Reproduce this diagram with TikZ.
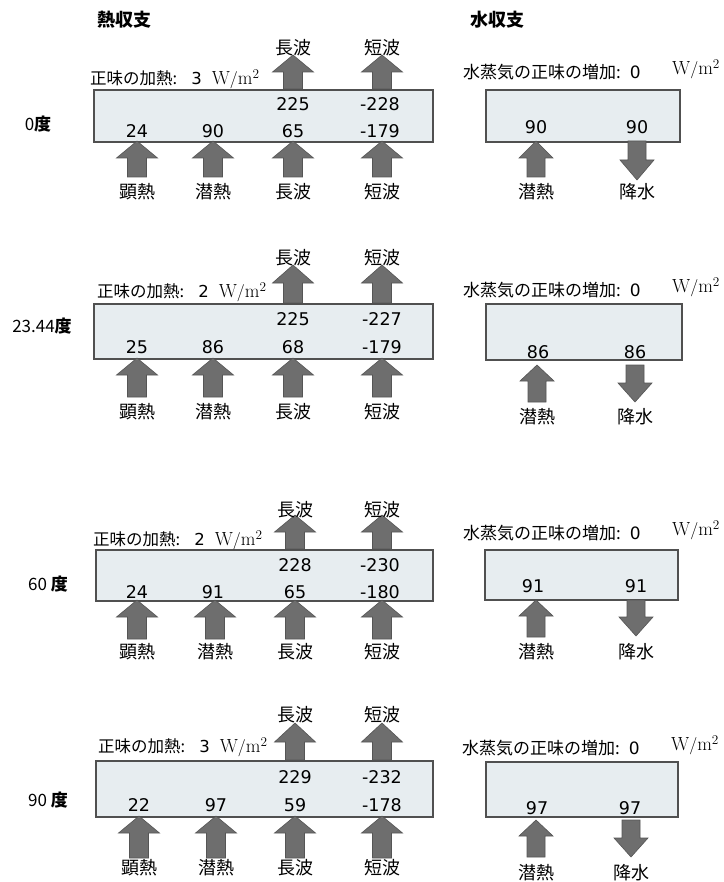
\documentclass[tikz,border=0pt]{standalone}
\usepackage{fontspec}
\newfontfamily\jp{Noto Sans CJK JP}
\newfontfamily\numf{DejaVu Sans}
\definecolor{boxfill}{HTML}{E7EDF0}
\definecolor{boxline}{HTML}{505050}
\definecolor{arrfill}{HTML}{6E6E6E}
\definecolor{arrline}{HTML}{555555}
\tikzset{
  hbox/.style={draw=boxline, fill=boxfill, line width=1.6pt, anchor=north west, inner sep=0pt},
  arr/.style={fill=arrfill, draw=arrline, line width=0.6pt, line join=miter},
  lab/.style={font=\jp\fontsize{18}{20}\selectfont, inner sep=0pt},
  val/.style={font=\numf\fontsize{17.5}{20}\selectfont, inner sep=0pt},
  net/.style={font=\jp\fontsize{16.5}{18}\selectfont, anchor=west, inner sep=0pt},
  wnet/.style={font=\jp\fontsize{17}{19}\selectfont, anchor=west, inner sep=0pt},
  unit/.style={font=\fontsize{19}{21}\selectfont, anchor=west, inner sep=0pt},
  ttl/.style={font=\jp\bfseries\fontsize{18}{20}\selectfont, inner sep=0pt},
  deg/.style={font=\jp\fontsize{17}{19}\selectfont, inner sep=0pt}
}
% heat arrow up: x, tip, base, bottom
\newcommand\heatup[4]{\draw[arr] (#1-9.5,#4) -- (#1-9.5,#3) -- (#1-20.5,#3) -- (#1,#2) -- (#1+20.5,#3) -- (#1+9.5,#3) -- (#1+9.5,#4) -- cycle;}
% water arrow up: x, tip, base, bottom
\newcommand\waterup[4]{\draw[arr] (#1-9,#4) -- (#1-9,#3) -- (#1-17,#3) -- (#1,#2) -- (#1+17,#3) -- (#1+9,#3) -- (#1+9,#4) -- cycle;}
% water arrow down: x, top, headtop, tip
\newcommand\waterdown[4]{\draw[arr] (#1-9,#2) -- (#1-9,#3) -- (#1-17,#3) -- (#1,#4) -- (#1+17,#3) -- (#1+9,#3) -- (#1+9,#2) -- cycle;}
\newcommand\nettext[1]{正味の加熱:\hspace{14pt}{\numf #1}\hspace{10pt}{\fontsize{19}{20}\selectfont$\mathrm{W/m^2}$}}
\newcommand\wtext{水蒸気の正味の増加:\hspace{9pt}{\numf 0}}
\begin{document}
\begin{tikzpicture}[x=1pt,y=-1pt]
\useasboundingbox (0,0) rectangle (723,882);
\fill[white] (0,0) rectangle (723,882);

\node[ttl] (t1) at (124,20) {熱収支};
\node[ttl] (t2) at (497,20) {水収支};

%================ Row 1 : 0 deg
\node[deg] (d1) at (38,124) {0{\bfseries 度}};
\heatup{293}{55}{72}{89}
\heatup{382}{55}{72}{89}
\node[hbox, minimum width=339pt, minimum height=52pt] (h1) at (93,89) {};
\heatup{137}{141}{158}{177}
\heatup{213}{141}{158}{177}
\heatup{293}{141}{158}{177}
\heatup{382}{141}{158}{177}
\node[lab] (h1a) at (293,48) {長波};
\node[lab] (h1b) at (382,48) {短波};
\node[net] (h1n) at (90,79) {\nettext{3}};
\node[val] (h1v1) at (293,104) {225};
\node[val] (h1v2) at (380,104) {-228};
\node[val] (h1v3) at (137,131) {24};
\node[val] (h1v4) at (213,131) {90};
\node[val] (h1v5) at (293,131) {65};
\node[val] (h1v6) at (380,131) {-179};
\node[lab] (h1c) at (137,192) {顕熱};
\node[lab] (h1d) at (213,192) {潜熱};
\node[lab] (h1e) at (293,192) {長波};
\node[lab] (h1f) at (382,192) {短波};

\node[wnet] (w1n) at (463,72) {\wtext};
\node[unit] (w1u) at (672,69) {$\mathrm{W/m^2}$};
\node[hbox, minimum width=194pt, minimum height=52pt] (w1) at (485,89) {};
\waterup{536}{141}{158}{177}
\waterdown{637}{141}{160}{180}
\node[val] (w1v1) at (536,127) {90};
\node[val] (w1v2) at (637,127) {90};
\node[lab] (w1a) at (536,192) {潜熱};
\node[lab] (w1b) at (637,192) {降水};

%================ Row 2 : 23.44 deg
\node[deg] (d2) at (42,326) {23.44{\bfseries 度}};
\heatup{293}{265}{283}{303}
\heatup{382}{265}{283}{303}
\node[hbox, minimum width=339pt, minimum height=55pt] (h2) at (93,303) {};
\heatup{137}{358}{375}{397}
\heatup{213}{358}{375}{397}
\heatup{293}{358}{375}{397}
\heatup{382}{358}{375}{397}
\node[lab] (h2a) at (293,258) {長波};
\node[lab] (h2b) at (382,258) {短波};
\node[net] (h2n) at (97,292) {\nettext{2}};
\node[val] (h2v1) at (293,319) {225};
\node[val] (h2v2) at (382,319) {-227};
\node[val] (h2v3) at (137,347) {25};
\node[val] (h2v4) at (213,347) {86};
\node[val] (h2v5) at (293,347) {68};
\node[val] (h2v6) at (382,347) {-179};
\node[lab] (h2c) at (137,412) {顕熱};
\node[lab] (h2d) at (213,412) {潜熱};
\node[lab] (h2e) at (293,412) {長波};
\node[lab] (h2f) at (382,412) {短波};

\node[wnet] (w2n) at (463,290) {\wtext};
\node[unit] (w2u) at (672,287) {$\mathrm{W/m^2}$};
\node[hbox, minimum width=196pt, minimum height=56pt] (w2) at (485,303) {};
\waterup{537}{365}{381}{402}
\waterdown{635}{365}{383}{402}
\node[val] (w2v1) at (538,352) {86};
\node[val] (w2v2) at (635,352) {86};
\node[lab] (w2a) at (537,417) {潜熱};
\node[lab] (w2b) at (635,417) {降水};

%================ Row 3 : 60 deg
\node[deg] (d3) at (48,584) {60 {\bfseries 度}};
\heatup{295}{515}{532}{549}
\heatup{382}{515}{532}{549}
\node[hbox, minimum width=337pt, minimum height=51pt] (h3) at (95,549) {};
\heatup{137}{600}{617}{639}
\heatup{215}{600}{617}{639}
\heatup{295}{600}{617}{639}
\heatup{382}{600}{617}{639}
\node[lab] (h3a) at (295,510) {長波};
\node[lab] (h3b) at (382,510) {短波};
\node[net] (h3n) at (93,540) {\nettext{2}};
\node[val] (h3v1) at (295,565) {228};
\node[val] (h3v2) at (380,565) {-230};
\node[val] (h3v3) at (137,592) {24};
\node[val] (h3v4) at (213,592) {91};
\node[val] (h3v5) at (295,592) {65};
\node[val] (h3v6) at (380,592) {-180};
\node[lab] (h3c) at (137,652) {顕熱};
\node[lab] (h3d) at (215,652) {潜熱};
\node[lab] (h3e) at (295,652) {長波};
\node[lab] (h3f) at (382,652) {短波};

\node[wnet] (w3n) at (463,533) {\wtext};
\node[unit] (w3u) at (672,530) {$\mathrm{W/m^2}$};
\node[hbox, minimum width=193pt, minimum height=50pt] (w3) at (484,549) {};
\waterup{536}{600}{616}{637}
\waterdown{636}{600}{617}{636}
\node[val] (w3v1) at (533,586) {91};
\node[val] (w3v2) at (636,586) {91};
\node[lab] (w3a) at (536,652) {潜熱};
\node[lab] (w3b) at (636,652) {降水};

%================ Row 4 : 90 deg
\node[deg] (d4) at (48,800) {90 {\bfseries 度}};
\heatup{295}{723}{742}{760}
\heatup{382}{723}{742}{760}
\node[hbox, minimum width=337pt, minimum height=56pt] (h4) at (95,760) {};
\heatup{139}{816}{833}{858}
\heatup{216}{816}{833}{858}
\heatup{295}{816}{833}{858}
\heatup{382}{816}{833}{858}
\node[lab] (h4a) at (295,715) {長波};
\node[lab] (h4b) at (382,715) {短波};
\node[net] (h4n) at (98,747) {\nettext{3}};
\node[val] (h4v1) at (295,777) {229};
\node[val] (h4v2) at (382,777) {-232};
\node[val] (h4v3) at (139,805) {22};
\node[val] (h4v4) at (216,805) {97};
\node[val] (h4v5) at (295,805) {59};
\node[val] (h4v6) at (382,805) {-178};
\node[lab] (h4c) at (139,868) {顕熱};
\node[lab] (h4d) at (216,868) {潜熱};
\node[lab] (h4e) at (295,868) {長波};
\node[lab] (h4f) at (382,868) {短波};

\node[wnet] (w4n) at (462,748) {\wtext};
\node[unit] (w4u) at (671,745) {$\mathrm{W/m^2}$};
\node[hbox, minimum width=192pt, minimum height=55pt] (w4) at (485,761) {};
\waterup{536}{820}{836}{857}
\waterdown{631}{820}{838}{857}
\node[val] (w4v1) at (537,808) {97};
\node[val] (w4v2) at (630,808) {97};
\node[lab] (w4a) at (536,873) {潜熱};
\node[lab] (w4b) at (631,873) {降水};
\end{tikzpicture}
\end{document}
